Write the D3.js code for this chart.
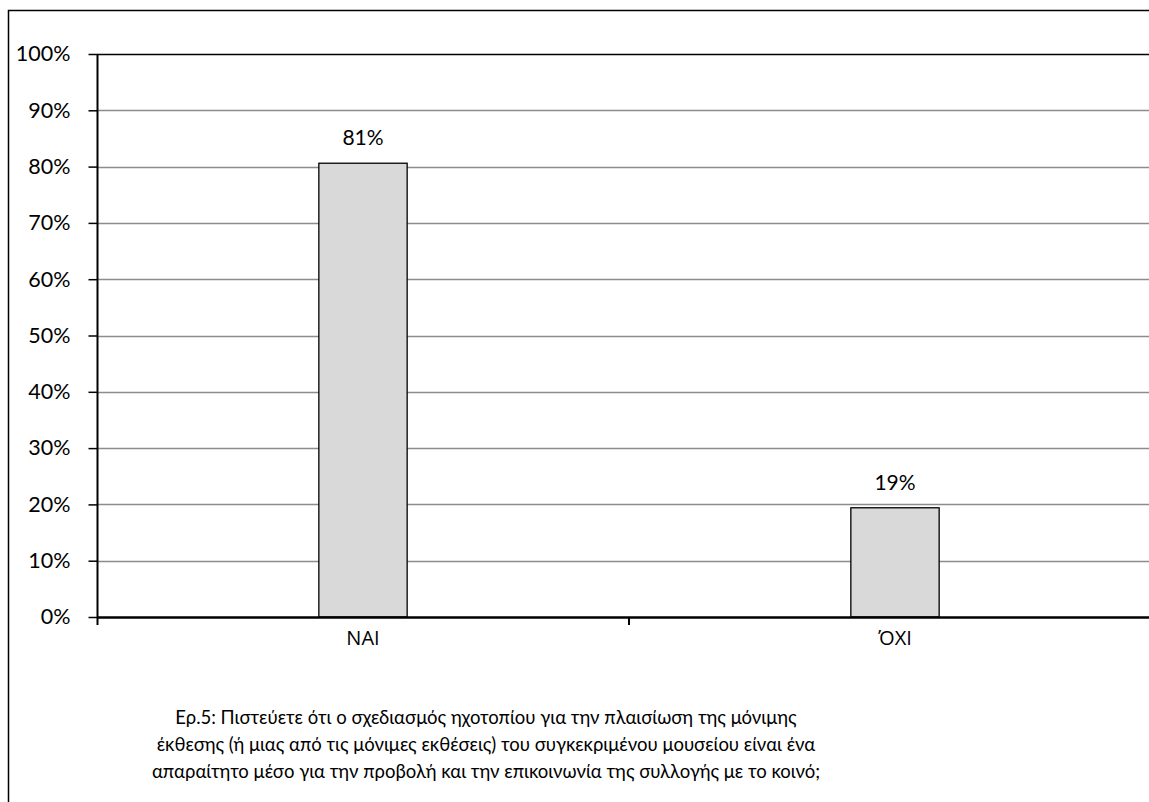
<!DOCTYPE html>
<html>
<head>
<meta charset="utf-8">
<script src="https://cdn.jsdelivr.net/npm/d3@7"></script>
<style>
  html, body { margin: 0; padding: 0; background: #fff; }
  svg { display: block; }
  text { font-family: Lato, "Open Sans", sans-serif; fill: #000; }
</style>
</head>
<body>
<svg id="chart" width="1149" height="802"></svg>
<script>
// Survey question 5: share of answers
const categories = ["ΝΑΙ", "ΌΧΙ"];
const values = [0.806, 0.194];
const yTicks = [0, 0.1, 0.2, 0.3, 0.4, 0.5, 0.6, 0.7, 0.8, 0.9, 1.0];
const captionLines = [
  "Ερ.5: Πιστεύετε ότι ο σχεδιασμός ηχοτοπίου για την πλαισίωση της μόνιμης",
  "έκθεσης (ή μιας από τις μόνιμες εκθέσεις) του συγκεκριμένου μουσείου είναι ένα",
  "απαραίτητο μέσο για την προβολή και την επικοινωνία της συλλογής με το κοινό;"
];

const svg = d3.select("#chart");

// outer chart frame
svg.append("rect")
  .attr("x", 8.5).attr("y", 10.5)
  .attr("width", 1200).attr("height", 900)
  .attr("fill", "none").attr("stroke", "#000").attr("stroke-width", 1.5);

const plot = { left: 97, right: 1161, top: 54, bottom: 617 };

const x = d3.scaleBand()
  .domain(categories)
  .range([plot.left, plot.right])
  .paddingInner(0).paddingOuter(0);

const y = d3.scaleLinear().domain([0, 1]).range([plot.bottom, plot.top]);

const g = svg.append("g");

// horizontal gridlines
g.selectAll("line.grid")
  .data(yTicks.filter(d => d > 0 && d < 1))
  .join("line")
  .attr("class", "grid")
  .attr("x1", plot.left).attr("x2", plot.right)
  .attr("y1", d => Math.round(y(d)) + 0.5).attr("y2", d => Math.round(y(d)) + 0.5)
  .attr("stroke", "#8c8c8c").attr("stroke-width", 1.5);

// top border of the plot area
g.append("line")
  .attr("x1", plot.left).attr("x2", plot.right)
  .attr("y1", Math.round(y(1)) + 0.5).attr("y2", Math.round(y(1)) + 0.5)
  .attr("stroke", "#000").attr("stroke-width", 1.5);

// bars
const barW = x.bandwidth() * 0.166;
g.selectAll("rect.bar")
  .data(values)
  .join("rect")
  .attr("class", "bar")
  .attr("x", (d, i) => x(categories[i]) + x.bandwidth() / 2 - barW / 2)
  .attr("y", d => y(d))
  .attr("width", barW)
  .attr("height", d => y(0) - y(d))
  .attr("fill", "#d9d9d9")
  .attr("stroke", "#000").attr("stroke-width", 1.3);

// value labels
const fmt = d3.format(".0%");
g.selectAll("text.val")
  .data(values)
  .join("text")
  .attr("class", "val")
  .attr("x", (d, i) => x(categories[i]) + x.bandwidth() / 2)
  .attr("y", d => y(d) - 18)
  .attr("text-anchor", "middle")
  .style("font-size", "21px")
  .text(d => fmt(d));

// y axis
const yAxis = d3.axisLeft(y)
  .tickValues(yTicks)
  .tickFormat(d3.format(".0%"))
  .tickSize(9)
  .tickPadding(18);
const ya = svg.append("g")
  .attr("transform", `translate(${plot.left + 0.5},0)`)
  .call(yAxis);
ya.select(".domain").attr("stroke", "#000").attr("stroke-width", 2)
  .attr("d", `M0,${plot.top}V${plot.bottom + 8}`);
ya.selectAll(".tick line").attr("stroke", "#000").attr("stroke-width", 1.5);
ya.selectAll(".tick text").style("font-size", "21.5px").attr("fill", "#000");

// x axis
const xAxis = d3.axisBottom(x).tickSize(0).tickPadding(17);
const xa = svg.append("g")
  .attr("transform", `translate(0,${plot.bottom})`)
  .attr("font-family", null).attr("font-size", null)
  .call(xAxis);
xa.attr("font-family", null).attr("font-size", null);
xa.select(".domain").attr("stroke", "#000").attr("stroke-width", 2.5);
xa.selectAll(".tick text")
  .attr("font-family", "Open Sans")
  .attr("font-size", 20)
  .style("font-family", "'Open Sans', sans-serif")
  .style("font-size", "20px")
  .attr("fill", "#000").attr("dy", "0.55em");

// category separators
xa.selectAll("line.sep")
  .data(categories.slice(1))
  .join("line")
  .attr("class", "sep")
  .attr("x1", d => x(d)).attr("x2", d => x(d))
  .attr("y1", 0).attr("y2", 8)
  .attr("stroke", "#000").attr("stroke-width", 2);

// caption
svg.append("g").selectAll("text")
  .data(captionLines)
  .join("text")
  .attr("x", 486)
  .attr("y", (d, i) => 724 + i * 27)
  .attr("text-anchor", "middle")
  .style("font-size", "18.5px")
  .text(d => d);
</script>
</body>
</html>
